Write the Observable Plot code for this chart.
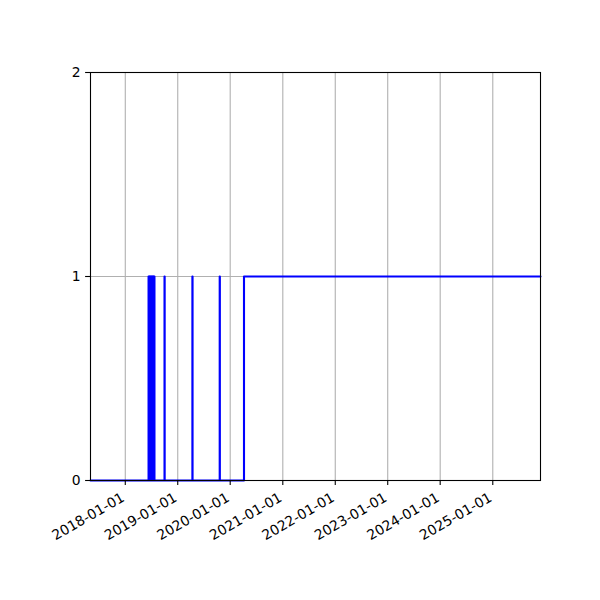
<!DOCTYPE html>
<html>
<head>
<meta charset="utf-8">
<script src="https://cdn.jsdelivr.net/npm/d3@7"></script>
<script src="https://cdn.jsdelivr.net/npm/@observablehq/plot@0.6"></script>
<style>
  html, body { margin: 0; padding: 0; background: #fff; }
  svg { display: block; }
</style>
</head>
<body>
<div id="chart"></div>
<script>
// Step series: value switches to changeValues[i] at changeDates[i] (step-after)
const changeDates = [
  "2017-05-04",
  "2018-06-12", "2018-06-13",
  "2018-06-16", "2018-06-17",
  "2018-06-20", "2018-06-21",
  "2018-06-24", "2018-06-25",
  "2018-06-28", "2018-06-29",
  "2018-07-02", "2018-07-03",
  "2018-07-06", "2018-07-07",
  "2018-07-10", "2018-07-11",
  "2018-07-14", "2018-07-15",
  "2018-07-18", "2018-07-19",
  "2018-07-22", "2018-07-23",
  "2018-10-01", "2018-10-02",
  "2019-04-13", "2019-04-14",
  "2019-10-20", "2019-10-21",
  "2020-04-06",
  "2025-11-29"
];
const changeValues = [
  0,
  1, 0,
  1, 0,
  1, 0,
  1, 0,
  1, 0,
  1, 0,
  1, 0,
  1, 0,
  1, 0,
  1, 0,
  1, 0,
  1, 0,
  1, 0,
  1, 0,
  1,
  1
];
const xTickLabels = ["2018-01-01", "2019-01-01", "2020-01-01", "2021-01-01",
                     "2022-01-01", "2023-01-01", "2024-01-01", "2025-01-01"];
const yTicks = [0, 1, 2];
const xStart = "2017-05-04";
const xEnd = "2025-11-29";

const parse = d3.utcParse("%Y-%m-%d");
const data = changeDates.map((d, i) => ({date: parse(d), value: changeValues[i]}));
const xTicks = xTickLabels.map(parse);

const fs = 13.9;
const chart = Plot.plot({
  width: 600,
  height: 600,
  marginLeft: 90,
  marginRight: 60,
  marginTop: 72,
  marginBottom: 120,
  style: {fontFamily: "DejaVu Sans", fontSize: fs + "px", background: "#fff", color: "#000"},
  x: {type: "utc", domain: [parse(xStart), parse(xEnd)]},
  y: {domain: [0, 2]},
  marks: [
    Plot.gridX(xTicks, {stroke: "#b0b0b0", strokeOpacity: 1, strokeWidth: 1.1}),
    Plot.gridY([1], {stroke: "#b0b0b0", strokeOpacity: 1, strokeWidth: 1.1}),
    Plot.line(data, {x: "date", y: "value", curve: "step-after", stroke: "#0000ff", strokeWidth: 2.1}),
    Plot.frame({stroke: "#000", strokeWidth: 1.1}),
    Plot.axisY(yTicks, {tickSize: 4.9, tickPadding: 4.9, fontSize: fs, tickFormat: d3.format("d"), label: null, strokeWidth: 1.1}),
    Plot.axisX(xTicks, {tickSize: 4.9, tickFormat: () => "", label: null, strokeWidth: 1.1}),
    Plot.axisX(xTicks, {tickSize: 0, tickPadding: 8.9, fontSize: fs, tickFormat: d3.utcFormat("%Y-%m-%d"),
      tickRotate: -30, textAnchor: "end", label: null, dx: -2, dy: 7})
  ]
});
document.getElementById("chart").appendChild(chart);
</script>
</body>
</html>
